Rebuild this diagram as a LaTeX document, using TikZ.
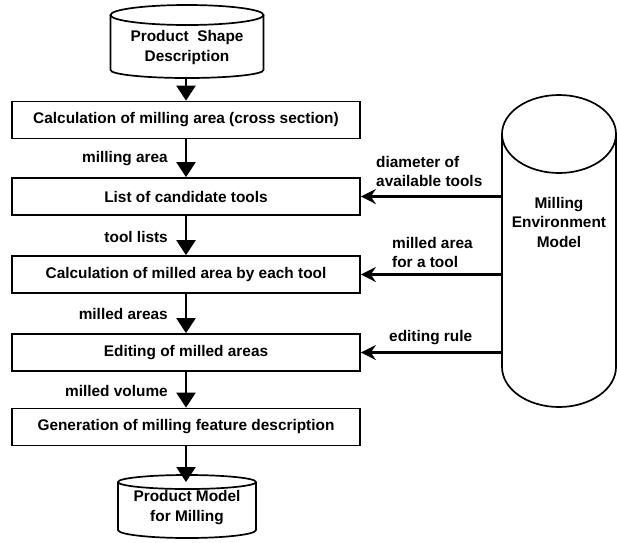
\documentclass[tikz,border=0pt]{standalone}
\usepackage{fontspec}
\setmainfont{Liberation Sans}
\usetikzlibrary{arrows.meta}
\begin{document}
\begin{tikzpicture}[x=1pt,y=1pt,
  every node/.style={font=\bfseries\fontsize{15.4}{19.5}\selectfont},
  procbox/.style={draw, line width=1.7pt, minimum width=348pt, minimum height=37pt, inner sep=0pt},
  shapeline/.style={line width=1.7pt},
  varrow/.style={line width=2.2pt, -{Triangle[width=19pt,length=15pt]}},
  harrow/.style={line width=2.2pt, -{Stealth[width=15pt,length=15pt,inset=5pt]}},
  lbl/.style={align=left, inner sep=0pt},
  anchorbox/.style={inner sep=0pt, outer sep=0pt}
]
\useasboundingbox (0,0) rectangle (617,-542);

% top cylinder: Product Shape Description
\node[anchorbox, minimum width=153pt, minimum height=73pt] (psd) at (187,-41.5) {};
\draw[shapeline] (187,-15) ellipse[x radius=76.5, y radius=10];
\draw[shapeline] (110.5,-15) -- (110.5,-70) arc[start angle=180, end angle=360, x radius=76.5, y radius=8] -- (263.5,-15);
\node[align=center] (psdtext) at (187,-47.5) {Product\ \ Shape\\Description};

% process boxes
\node[procbox] (b1) at (186,-120) {Calculation of milling area (cross section)};
\node[procbox] (b2) at (186,-196.5) {List of candidate tools};
\node[procbox] (b3) at (186,-274.5) {Calculation of milled area by each tool};
\node[procbox] (b4) at (186,-352.5) {Editing of milled areas};
\node[procbox] (b5) at (186,-427) {Generation of milling feature description};

% bottom cylinder: Product Model for Milling
\node[anchorbox, minimum width=138pt, minimum height=63pt] (pmm) at (187,-506.5) {};
\draw[shapeline] (187,-482) ellipse[x radius=69, y radius=7];
\draw[shapeline] (118,-482) -- (118,-530) arc[start angle=180, end angle=360, x radius=69, y radius=8] -- (256,-482);
\node[align=center] (pmmtext) at (187,-507.5) {Product Model\\for Milling};

% right cylinder: Milling Environment Model
\node[anchorbox, minimum width=114pt, minimum height=312pt] (env) at (559,-251) {};
\draw[shapeline] (559,-134) ellipse[x radius=57, y radius=39];
\draw[shapeline] (502,-134) -- (502,-367) arc[start angle=180, end angle=360, x radius=57, y radius=40] -- (616,-134);
\node[align=center] (envtext) at (559,-222) {Milling\\Environment\\Model};

% vertical flow arrows
\draw[varrow] (psd.south -| b1.north) -- (b1.north);
\draw[varrow] (b1.south) -- (b2.north);
\draw[varrow] (b2.south) -- (b3.north);
\draw[varrow] (b3.south) -- (b4.north);
\draw[varrow] (b4.south) -- (b5.north);
\draw[varrow] (b5.south) -- ([yshift=-7pt]b5.south |- pmm.north);

% horizontal arrows from environment model
\draw[harrow] (b2.east -| env.west) -- (b2.east);
\draw[harrow] (b3.east -| env.west) -- (b3.east);
\draw[harrow] (b4.east -| env.west) -- (b4.east);

% labels
\node[lbl, anchor=east] (l1) at (168,-159) {milling area};
\node[lbl, anchor=east] (l2) at (168,-236.5) {tool lists};
\node[lbl, anchor=east] (l3) at (168,-313.5) {milled areas};
\node[lbl, anchor=east] (l4) at (168,-391) {milled volume};
\node[lbl, anchor=west] (r1) at (376,-171.5) {diameter of\\available tools};
\node[lbl, anchor=west] (r2) at (392,-252.5) {milled area\\for a tool};
\node[lbl, anchor=west] (r3) at (389,-338) {editing rule};
\end{tikzpicture}
\end{document}
